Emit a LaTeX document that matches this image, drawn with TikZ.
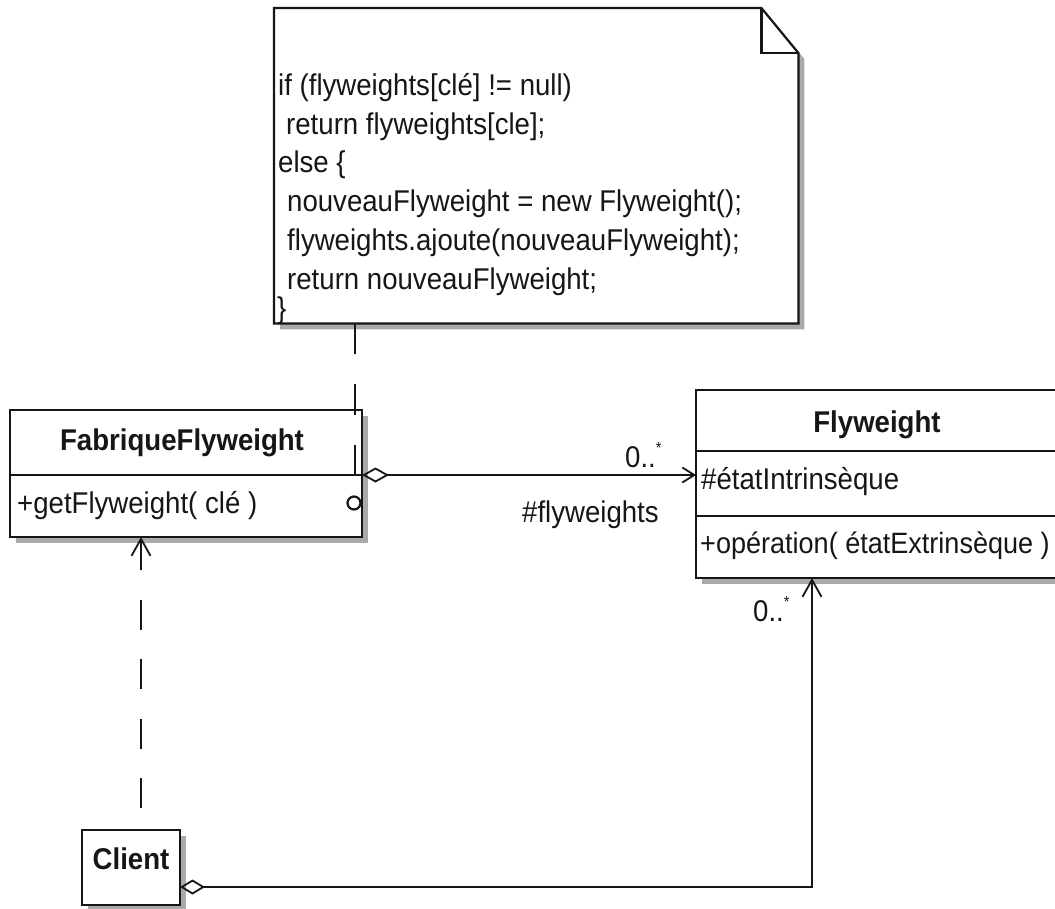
\documentclass[tikz,border=0pt]{standalone}
\usepackage{fontspec}
\setmainfont[FakeStretch=0.92]{Liberation Sans}
\usetikzlibrary{arrows.meta,shadows}
\definecolor{ink}{HTML}{161616}
\definecolor{shade}{HTML}{AAAAAA}

\tikzset{
  umlbox/.style={draw=ink, line width=2.2pt, fill=white, inner sep=0pt, outer sep=0pt,
    general shadow={fill=shade, shadow xshift=6pt, shadow yshift=-6pt}},
  divider/.style={draw=ink, line width=2.2pt},
  classname/.style={font=\fontsize{30}{33}\selectfont\bfseries, inner sep=0pt, text=ink},
  member/.style={font=\fontsize{30}{33}\selectfont, inner sep=0pt, text=ink, anchor=base west},
  codeline/.style={font=\fontsize{30}{33}\selectfont, inner sep=0pt, text=ink, anchor=base west},
  conn/.style={draw=ink, line width=2pt},
  notebox/.style={draw=ink, line width=2.2pt, fill=white, line join=miter,
    general shadow={fill=shade, shadow xshift=6pt, shadow yshift=-6pt}},
  bigbarb/.style={-{Straight Barb[length=17pt,width=19pt,line width=1.8pt]}},
}

\begin{document}
\begin{tikzpicture}[x=1pt,y=-1pt]
\useasboundingbox (0,0) rectangle (1055,908);

% ---------- note with folded corner ----------
\node[anchor=north west, minimum width=524pt, minimum height=315pt, inner sep=0pt] (note) at (274,8) {};
\path[notebox] (note.north west) -- ([xshift=-37pt]note.north east)
  -- ([yshift=-45pt]note.north east) -- (note.south east) -- (note.south west) -- cycle;
\draw[divider, line join=miter] ([xshift=-37pt]note.north east) -- ([xshift=-37pt,yshift=-45pt]note.north east)
  -- ([yshift=-45pt]note.north east);

\node[codeline] (c1) at (278,95)  {if (flyweights[clé] != null)};
\node[codeline] (c2) at (286,134) {return flyweights[cle];};
\node[codeline] (c3) at (278,172) {else \{};
\node[codeline] (c4) at (287,211) {nouveauFlyweight = new Flyweight();};
\node[codeline] (c5) at (287,250) {flyweights.ajoute(nouveauFlyweight);};
\node[codeline] (c6) at (287,289) {return nouveauFlyweight;};
\node[codeline] (c7) at (277,318) {\}};

% ---------- FabriqueFlyweight ----------
\node[umlbox, anchor=north west, minimum width=352pt, minimum height=127pt] (fab) at (10,410) {};
\draw[divider] (fab.west |- 0,475) -- (fab.east |- 0,475);
\node[classname, anchor=base] (fabname) at (182,450) {FabriqueFlyweight};
\node[member] (fabop) at (17,513) {+getFlyweight( clé )};
\node[circle, draw=ink, line width=2.2pt, minimum size=13pt, inner sep=0pt] (fabicon) at (354,503) {};

% ---------- Flyweight ----------
\node[umlbox, anchor=north west, minimum width=366pt, minimum height=188pt] (fly) at (696,390) {};
\draw[divider] (fly.west |- 0,451) -- (fly.east |- 0,451);
\draw[divider] (fly.west |- 0,516) -- (fly.east |- 0,516);
\node[classname, anchor=base] (flyname) at (877,432) {Flyweight};
\node[member] (flyattr) at (701,489) {\#étatIntrinsèque};
\node[member, font=\fontsize{29.4}{33}\selectfont] (flyop) at (700,553) {+opération( étatExtrinsèque )};

% ---------- Client ----------
\node[umlbox, anchor=north west, minimum width=98pt, minimum height=75pt] (client) at (82,830) {};
\node[classname, anchor=base] (clientname) at (131,869) {Client};

% ---------- connectors ----------
% note attached to the factory operation
\coordinate (notelink) at (355,476);
\draw[conn, dash pattern=on 31pt off 30pt] (note.south west -| notelink) -- (notelink);

% factory aggregates the flyweights
\draw[conn, {Diamond[open,length=27pt,width=15pt,line width=1.8pt]}-{Straight Barb[length=12pt,width=15pt,line width=1.8pt]}]
  (fab.east |- 0,475) -- (fly.west |- 0,475);
\node[member] (mult1) at (625,467) {0..\raisebox{0.45em}{\fontsize{16}{16}\selectfont *}};
\node[member] (role1) at (522,522) {\#flyweights};

% client uses the factory
\draw[conn, dash pattern=on 30pt off 29.5pt, dash phase=37.5pt, bigbarb]
  ([xshift=10pt]client.north) -- ([xshift=10pt]client.north |- fab.south);

% client aggregates flyweights
\draw[conn, {Diamond[open,length=25pt,width=15pt,line width=1.8pt]}-{Straight Barb[length=17pt,width=19pt,line width=1.8pt]}]
  (client.east |- 0,887) -| (fly.south -| 812,0);
\node[member] (mult2) at (753,621) {0..\raisebox{0.45em}{\fontsize{16}{16}\selectfont *}};

\end{tikzpicture}
\end{document}
